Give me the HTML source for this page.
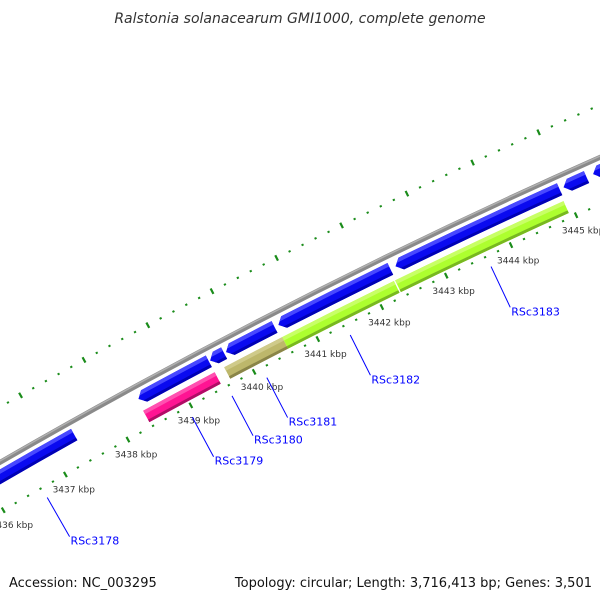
<!DOCTYPE html>
<html><head><meta charset="utf-8"><style>
html,body{margin:0;padding:0;background:#fff;}
svg{display:block;font-family:"DejaVu Sans","Liberation Sans",sans-serif;}
</style></head><body>
<svg id="map" width="600" height="600" viewBox="0 0 600 600" xmlns="http://www.w3.org/2000/svg">
<rect width="600" height="600" fill="#fff"/>
<g id="layer"></g>
<text x="300" y="23" text-anchor="middle" font-size="14" font-style="italic" fill="#333">Ralstonia solanacearum GMI1000, complete genome</text>
<text x="9" y="587" font-size="13" fill="#111">Accession: NC_003295</text>
<text x="592" y="587" text-anchor="end" font-size="13" fill="#111">Topology: circular; Length: 3,716,413 bp; Genes: 3,501</text>
</svg>
<script>
// ---- data (kbp) ----
const blueStarts = [3436.0, 3438.40, 3439.53, 3439.78, 3440.60, 3442.42, 3445.00, 3445.45];
const blueEnds   = [3437.38, 3439.51, 3439.75, 3440.54, 3442.34, 3444.94, 3445.35, 3447.5];
const innerStarts = [3438.38, 3439.66, 3440.57, 3442.33];
const innerEnds   = [3439.51, 3440.57, 3442.31, 3444.92];
const innerColors = ["#ff1493", "#bdb76b", "#adff2f", "#adff2f"];
const geneLabels = ["RSc3178", "RSc3179", "RSc3180", "RSc3181", "RSc3182", "RSc3183"];
const labelPos   = [3436.62, 3438.94, 3439.57, 3440.12, 3441.43, 3443.62];
const tickMin = 3435, tickMax = 3448;

// ---- geometry ----
const CX = 3176, CY = 5968, R0 = 6356;
const PHI0 = -27.57, DEG_PER_KBP = 0.65, REF = 3440;
function ang(k){ return (PHI0 + (k - REF) * DEG_PER_KBP) * Math.PI / 180; }
function pt(k, r){ const a = ang(k); return [CX + r*Math.sin(a), CY - r*Math.cos(a)]; }
const NS = "http://www.w3.org/2000/svg";
const layer = document.getElementById('layer');
function mk(tag, attrs){ const e = document.createElementNS(NS, tag); for (const k in attrs) e.setAttribute(k, attrs[k]); return e; }
function arcBand(a, b, r1, r2){
  const p1 = pt(a, r2), p2 = pt(b, r2), p3 = pt(b, r1), p4 = pt(a, r1);
  return `M${p1[0]},${p1[1]} A${r2},${r2} 0 0 1 ${p2[0]},${p2[1]} L${p3[0]},${p3[1]} A${r1},${r1} 0 0 0 ${p4[0]},${p4[1]} Z`;
}
function arrowBand(a, b, r1, r2, head){
  const s = a + head;
  const p1 = pt(s, r2), p2 = pt(b, r2), p3 = pt(b, r1), p4 = pt(s, r1), tip = pt(a, (r1 + r2) / 2);
  return `M${tip[0]},${tip[1]} L${p1[0]},${p1[1]} A${r2},${r2} 0 0 1 ${p2[0]},${p2[1]} L${p3[0]},${p3[1]} A${r1},${r1} 0 0 0 ${p4[0]},${p4[1]} Z`;
}
const defs = mk('defs', {});
layer.appendChild(defs);

// backbone
const bb = mk('path', {d: arcBand(tickMin, tickMax, R0 - 2.5, R0 + 2.5), fill: '#8a8a8a'});


layer.appendChild(bb);
const bbl = mk('path', {d: arcBand(tickMin, tickMax, R0 + 0.5, R0 + 2), fill: '#b0b0b0'});


layer.appendChild(bbl);

// shaded feature
function feature(d, idx, base, light, dark, r1, r2, name){
  const g = mk('g', {});
  
  
  const cp = mk('clipPath', {id: 'cp' + idx});
  cp.appendChild(mk('path', {d: d}));
  defs.appendChild(cp);
  g.appendChild(mk('path', {d: d, fill: base}));
  const w = r2 - r1;
  return {g, cp, r1, r2, w, light, dark};
}
let cid = 0;
function drawFeature(a, b, r1, r2, base, light, dark, arrow, name){
  const d = arrow ? arrowBand(a, b, r1, r2, 0.09) : arcBand(a, b, r1, r2);
  const id = 'cp' + (cid++);
  const cp = mk('clipPath', {id: id});
  cp.appendChild(mk('path', {d: d}));
  defs.appendChild(cp);
  const g = mk('g', {});
  
  
  g.appendChild(mk('path', {d: d, fill: base}));
  const sub = mk('g', {'clip-path': `url(#${id})`});
  const w = r2 - r1;
  sub.appendChild(mk('path', {d: arcBand(a - 0.2, b + 0.2, r2 - w * 0.3, r2 + 1), fill: light}));
  sub.appendChild(mk('path', {d: arcBand(a - 0.2, b + 0.2, r1 - 1, r1 + w * 0.22), fill: dark}));
  g.appendChild(sub);
  layer.appendChild(g);
}
// blue genes ring
for (let i = 0; i < blueStarts.length; i++){
  drawFeature(blueStarts[i], blueEnds[i], R0 - 19, R0 - 6, '#0a0af0', '#4848ff', '#0000b4', true, 'blue-gene-' + (i + 1));
}
// inner genes ring
const lightMap = {"#ff1493": "#ff50b0", "#bdb76b": "#cfca8a", "#adff2f": "#c8ff66"};
const darkMap = {"#ff1493": "#b00c66", "#bdb76b": "#8a8548", "#adff2f": "#78b820"};
for (let i = 0; i < innerStarts.length; i++){
  const c = innerColors[i];
  drawFeature(innerStarts[i], innerEnds[i], R0 - 38, R0 - 25, c, lightMap[c], darkMap[c], false, 'inner-gene-' + (i + 1));
}

// ticks (both rings)
const tickColor = '#1a8c1a';
for (let t = tickMin * 5; t <= tickMax * 5; t++){
  const k = t / 5;
  const major = (t % 5 === 0);
  const len = major ? 6 : 2;
  [[R0 - 43, -1], [R0 + 48, 1]].forEach(([r, dir], ri) => {
    const p1 = pt(k, r - len / 2), p2 = pt(k, r + len / 2);
    const ln = mk('line', {x1: p1[0], y1: p1[1], x2: p2[0], y2: p2[1], stroke: tickColor, 'stroke-width': major ? 2.2 : 2.2});
    
    
    layer.appendChild(ln);
  });
  if (major){
    const lp = pt(k, R0 - 60);
    const tx = mk('text', {x: lp[0], y: lp[1] + 3, 'text-anchor': 'middle', 'font-size': 9, fill: '#333'});
    tx.textContent = k + ' kbp';
    
    
    layer.appendChild(tx);
  }
}

// gene labels
for (let i = 0; i < geneLabels.length; i++){
  const p1 = pt(labelPos[i], R0 - 54), p2 = pt(labelPos[i], R0 - 99);
  const ln = mk('line', {x1: p1[0], y1: p1[1], x2: p2[0], y2: p2[1], stroke: '#0000ff', 'stroke-width': 1});
  
  
  layer.appendChild(ln);
  const tx = mk('text', {x: p2[0] + 1, y: p2[1] + 8, 'font-size': 11, fill: '#0000ff'});
  tx.textContent = geneLabels[i];
  
  
  layer.appendChild(tx);
}
</script>
</body></html>
